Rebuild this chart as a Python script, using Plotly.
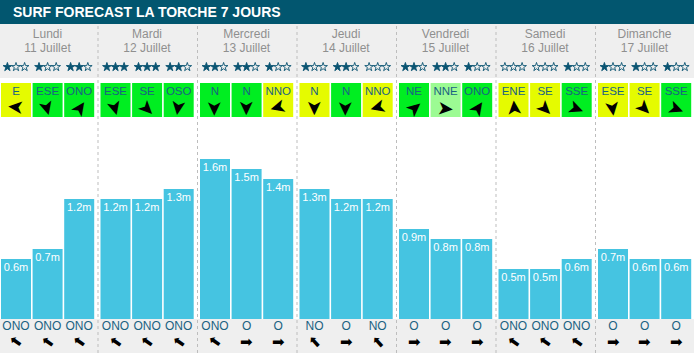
import plotly.graph_objects as go

# ---------------- data ----------------
days = ["Lundi", "Mardi", "Mercredi", "Jeudi", "Vendredi", "Samedi", "Dimanche"]
dates = ["11 Juillet", "12 Juillet", "13 Juillet", "14 Juillet", "15 Juillet", "16 Juillet", "17 Juillet"]
wave_heights = [0.6, 0.7, 1.2, 1.2, 1.2, 1.3, 1.6, 1.5, 1.4, 1.3, 1.2, 1.2,
                0.9, 0.8, 0.8, 0.5, 0.5, 0.6, 0.7, 0.6, 0.6]
star_ratings = [1, 1, 2, 3, 3, 2, 2, 2, 1, 1, 2, 0, 2, 2, 1, 0, 0, 1, 1, 1, 1]
wind_dirs = ["E", "ESE", "ONO", "ESE", "SE", "OSO", "N", "N", "NNO", "N", "N", "NNO",
             "NE", "NNE", "ONO", "ENE", "SE", "SSE", "ESE", "SE", "SSE"]
wind_quality = ["y", "g", "g", "g", "g", "g", "g", "g", "y", "y", "g", "y",
                "g", "lg", "g", "y", "y", "g", "y", "y", "g"]
wind_arrow_deg = [275, 165, 35, 165, 135, 188, 180, 180, 255, 180, 180, 255,
                  50, 95, 35, 355, 135, 112, 172, 135, 112]
swell_dirs = ["ONO", "ONO", "ONO", "ONO", "ONO", "ONO", "ONO", "O", "O", "NO", "O", "NO",
              "O", "O", "O", "ONO", "ONO", "ONO", "O", "O", "O"]
swell_arrow_deg = {"ONO": 305, "O": 90, "NO": 318}

# ---------------- styles / layout helpers ----------------
W, H = 694, 357
Y_TOP, Y_BOT = 3.19, -0.38          # 100 px per metre, bar base at 319 px


def Y(px):
    return Y_TOP - px / 100.0


DAY_W = 99.5
xs = [d * DAY_W + 16 + b * 31.6 for d in range(7) for b in range(3)]
day_cx = [d * DAY_W + 47.5 for d in range(7)]
quality_colors = {"y": "#e5fb00", "g": "#00ee21", "lg": "#9cfb93"}
BAR_COLOR = "#45c4e1"
TEAL = "#02566f"
STAR_COLOR = "#0a5472"
LABEL_TEAL = "#1a6282"
FONT = "Liberation Sans, Arial, sans-serif"

fig = go.Figure()

# wave height bars
fig.add_trace(go.Bar(x=xs, y=wave_heights, width=30, marker=dict(color=BAR_COLOR, line=dict(width=0)),
                     hoverinfo="skip"))
# bar labels
fig.add_trace(go.Scatter(x=xs, y=[v - 0.095 for v in wave_heights], mode="text",
                         text=[f"{v:.1f}m" for v in wave_heights],
                         textfont=dict(color="white", size=11, family=FONT), hoverinfo="skip"))
# wind boxes
fig.add_trace(go.Bar(x=xs, y=[Y(83) - Y(117)] * len(xs), base=[Y(117)] * len(xs), width=30,
                     marker=dict(color=[quality_colors[q] for q in wind_quality], line=dict(width=0)),
                     hoverinfo="skip"))
fig.add_trace(go.Scatter(x=xs, y=[Y(92.5)] * len(xs), mode="text", text=wind_dirs,
                         textfont=dict(color=LABEL_TEAL, size=11.5, family=FONT), hoverinfo="skip"))
# stars (3 per slot: filled for rating, open otherwise)
star_x, star_sym = [], []
for x, r in zip(xs, star_ratings):
    for k in range(3):
        star_x.append(x + (k - 1) * 8.6)
        star_sym.append("star" if k < r else "star-open")
fig.add_trace(go.Scatter(x=star_x, y=[Y(67)] * len(star_x), mode="markers",
                         marker=dict(symbol=star_sym, size=6.5, color=STAR_COLOR,
                                     line=dict(color=STAR_COLOR, width=0.9)),
                         hoverinfo="skip"))
# day names / dates
fig.add_trace(go.Scatter(x=day_cx, y=[Y(35)] * 7, mode="text", text=days,
                         textfont=dict(color="#8f8f8f", size=12, family=FONT), hoverinfo="skip"))
fig.add_trace(go.Scatter(x=day_cx, y=[Y(49)] * 7, mode="text", text=dates,
                         textfont=dict(color="#8f8f8f", size=12, family=FONT), hoverinfo="skip"))
# swell direction labels
fig.add_trace(go.Scatter(x=xs, y=[Y(327)] * len(xs), mode="text", text=swell_dirs,
                         textfont=dict(color=LABEL_TEAL, size=12, family=FONT), hoverinfo="skip"))

# arrows
for x, a in zip(xs, wind_arrow_deg):
    fig.add_annotation(x=x, y=Y(108), text="➤", showarrow=False, textangle=a - 90,
                       font=dict(size=20, color="black", family="DejaVu Sans"))
for x, d in zip(xs, swell_dirs):
    fig.add_annotation(x=x, y=Y(342), text="➡", showarrow=False, textangle=swell_arrow_deg[d] - 90,
                       font=dict(size=15, color="black", family="DejaVu Sans"))

# title
fig.add_annotation(x=11, y=Y(12), text="<b>SURF FORECAST LA TORCHE 7 JOURS</b>", showarrow=False,
                   xanchor="left", font=dict(size=14, color="white", family=FONT))

shapes = [
    dict(type="rect", x0=0, x1=W, y0=Y(24), y1=Y(0), fillcolor=TEAL, line=dict(width=0), layer="below"),
    dict(type="rect", x0=0, x1=W, y0=Y(78), y1=Y(24), fillcolor="#efefef", line=dict(width=0), layer="below"),
    dict(type="rect", x0=0, x1=W, y0=Y(353), y1=Y(319), fillcolor="#efefef", line=dict(width=0), layer="below"),
]
for d in range(1, 7):
    xd = d * DAY_W - 1.5
    shapes.append(dict(type="line", x0=xd, x1=xd, y0=Y(353), y1=Y(24),
                       line=dict(color="#bdbdbd", width=1, dash="3px,3px"), layer="below"))

fig.update_layout(
    width=W, height=H, margin=dict(l=0, r=0, t=0, b=0),
    paper_bgcolor="white", plot_bgcolor="white",
    barmode="overlay", showlegend=False, shapes=shapes,
    xaxis=dict(range=[0, W], visible=False, fixedrange=True),
    yaxis=dict(range=[Y_BOT, Y_TOP], visible=False, fixedrange=True),
)

fig.write_html("out.html", config={"displayModeBar": False},
               post_script="document.body.style.margin='0px';document.body.style.overflow='hidden';")
